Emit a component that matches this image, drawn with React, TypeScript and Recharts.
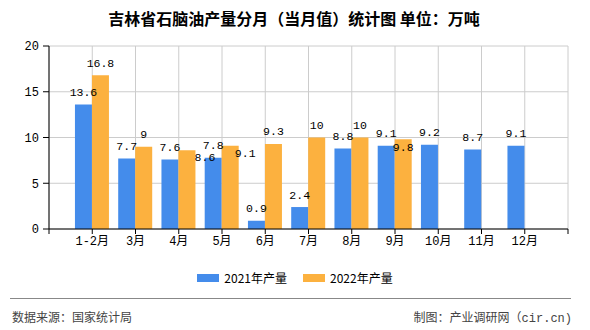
import React from 'react';
import { BarChart, Bar, XAxis, YAxis, CartesianGrid, LabelList } from 'recharts';

const categories = ['1-2月', '3月', '4月', '5月', '6月', '7月', '8月', '9月', '10月', '11月', '12月'];
const values2021 = [13.6, 7.7, 7.6, 7.8, 0.9, 2.4, 8.8, 9.1, 9.2, 8.7, 9.1];
const values2022: (number | null)[] = [16.8, 9, 8.6, 9.1, 9.3, 10, 10, 9.8, null, null, null];
const yTicks = [0, 5, 10, 15, 20];
const xTicks = [0, 1, 2, 3, 4, 5, 6, 7, 8, 9, 10, 11, 12];

const data = categories.map((c, i) => ({ x: i + 1, name: c, v2021: values2021[i], v2022: values2022[i] }));

const BLUE = '#448CEB';
const ORANGE = '#FCB13F';
const NUM_FONT = '"Liberation Mono", "Noto Sans CJK SC", monospace';

// label offsets (dx, dy of label centre relative to bar top centre) where the original shifted labels
const shift2022: Record<number, [number, number]> = { 2: [18, 7], 3: [15, 8], 7: [0, 8] };

const makeLabel = (shifts: Record<number, [number, number]>) => (props: any) => {
  const vb = props.viewBox || {};
  const x = props.x ?? vb.x;
  const y = props.y ?? vb.y;
  const width = props.width ?? vb.width;
  const { value, index } = props;
  if (value === null || value === undefined) return null;
  const s = shifts[index] || [0, -12];
  return (
    <text
      x={x + width / 2 + s[0]}
      y={y + s[1]}
      textAnchor="middle"
      dominantBaseline="central"
      fontSize={11.5}
      fontFamily={NUM_FONT}
      fill="#000"
    >
      {value}
    </text>
  );
};

export default function App() {
  return (
    <div style={{ position: 'fixed', left: 0, top: 0, width: 590, height: 330, background: '#fff', fontFamily: '"Noto Sans CJK SC", sans-serif' }}>
      <div style={{ position: 'absolute', left: 0, top: 6, width: 588, textAlign: 'center', fontSize: 16, fontWeight: 'bold', lineHeight: '24px', color: '#000' }}>
        吉林省石脑油产量分月（当月值）统计图 单位：万吨
      </div>
      <BarChart
        width={590}
        height={330}
        data={data}
        margin={{ top: 46, right: 22, bottom: 71, left: 0 }}
        barGap={0}
        barCategoryGap="10%"
      >
        <CartesianGrid stroke="#cccccc" strokeWidth={1} />
        <XAxis
          type="number"
          dataKey="x"
          domain={[0, 12]}
          ticks={xTicks}
          interval={0}
          allowDecimals={false}
          height={30}
          tickSize={5}
          tickMargin={2}
          axisLine={{ stroke: '#000' }}
          tickLine={{ stroke: '#000' }}
          tick={{ fill: '#000', fontSize: 12, fontFamily: NUM_FONT }}
          tickFormatter={(v: number) => (v >= 1 && v <= categories.length ? categories[v - 1] : '')}
        />
        <YAxis
          domain={[0, 20]}
          ticks={yTicks}
          width={49}
          tickSize={6}
          tickMargin={4}
          axisLine={{ stroke: '#000' }}
          tickLine={{ stroke: '#000' }}
          tick={{ fill: '#000', fontSize: 12, fontFamily: NUM_FONT }}
        />
        <Bar dataKey="v2021" fill={BLUE} isAnimationActive={false}>
          <LabelList dataKey="v2021" content={makeLabel({})} />
        </Bar>
        <Bar dataKey="v2022" fill={ORANGE} isAnimationActive={false}>
          <LabelList dataKey="v2022" content={makeLabel(shift2022)} />
        </Bar>
      </BarChart>
      <div style={{ position: 'absolute', top: 270, left: 0, width: 590, display: 'flex', justifyContent: 'center', fontSize: 12, lineHeight: '16px', color: '#000' }}>
        <div style={{ display: 'flex', alignItems: 'center', marginRight: 16 }}>
          <span style={{ display: 'inline-block', width: 22, height: 8, background: BLUE, marginRight: 5 }} />
          <span>2021年产量</span>
        </div>
        <div style={{ display: 'flex', alignItems: 'center' }}>
          <span style={{ display: 'inline-block', width: 22, height: 8, background: ORANGE, marginRight: 5 }} />
          <span>2022年产量</span>
        </div>
      </div>
      <div style={{ position: 'absolute', top: 298, left: 10, width: 561, height: 0, borderTop: '1px solid #888' }} />
      <div style={{ position: 'absolute', top: 308, left: 12, fontSize: 12, lineHeight: '18px', color: '#444' }}>数据来源：国家统计局</div>
      <div style={{ position: 'absolute', top: 308, right: 18, fontSize: 12, lineHeight: '18px', color: '#444', whiteSpace: 'nowrap' }}>
        制图：产业调研网（<span style={{ fontFamily: NUM_FONT }}>cir.cn)</span>
      </div>
    </div>
  );
}
